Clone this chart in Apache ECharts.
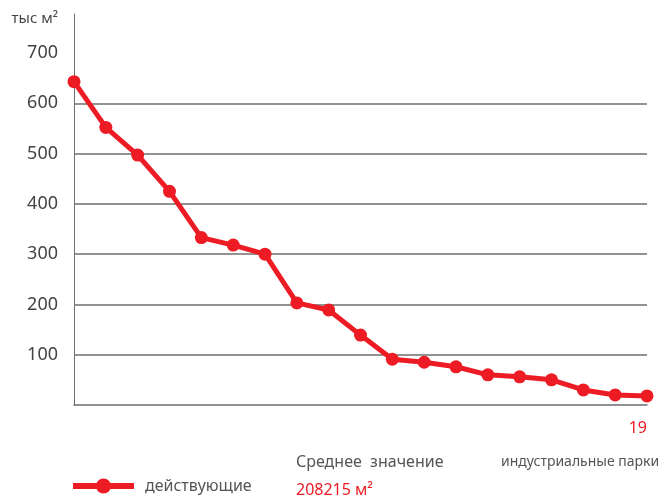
<!DOCTYPE html>
<html>
<head>
<meta charset="utf-8">
<script src="https://cdn.jsdelivr.net/npm/echarts@6/dist/echarts.min.js"></script>
<style>
html,body{margin:0;padding:0;background:#fff;}
#chart{width:664px;height:499px;}
</style>
</head>
<body>
<div id="chart"></div>
<script>
var categories = ['1','2','3','4','5','6','7','8','9','10','11','12','13','14','15','16','17','18','19'];
var values = [643, 552, 497, 425, 333, 318, 300, 203, 189, 139, 91, 85, 76, 60, 56, 50, 30, 20, 18];
var seriesName = 'действующие';
var yUnit = 'тыс м²';
var xTitle = 'индустриальные парки';
var avgTitle = 'Среднее  значение';
var avgValue = '208215 м²';

var FONT = 'Noto Sans';
var RED = '#ed1c24';
var GREY = '#6e6e6e';
var TEXT = '#444';

var chart = echarts.init(document.getElementById('chart'));
chart.setOption({
  animation: false,
  textStyle: {fontFamily: FONT},
  grid: {left: 74, right: 17, top: 14, bottom: 94, containLabel: false},
  legend: {
    data: [seriesName],
    left: 70, top: 478, padding: 0,
    itemWidth: 61, itemHeight: 19, itemGap: 10,
    lineStyle: {width: 6},
    textStyle: {fontFamily: FONT, fontSize: 16, color: '#555', padding: [0,0,0,6]}
  },
  xAxis: {
    type: 'category',
    data: categories,
    boundaryGap: false,
    axisLine: {show: true, lineStyle: {color: GREY, width: 1.5}},
    axisTick: {show: false},
    axisLabel: {
      interval: 0,
      formatter: function (v, i) { return i === categories.length - 1 ? v : ''; },
      color: RED, fontSize: 16, fontFamily: FONT, align: 'right', margin: 15
    },
    splitLine: {show: false}
  },
  yAxis: {
    type: 'value',
    min: 0, max: 777.6, interval: 100,
    axisLine: {show: true, lineStyle: {color: GREY, width: 1}},
    axisTick: {show: false},
    axisLabel: {
      showMaxLabel: false,
      formatter: function (v) { return v === 0 ? '' : String(v); },
      color: TEXT, fontSize: 18, fontFamily: FONT, margin: 16
    },
    splitLine: {
      show: true,
      lineStyle: {
        color: ['transparent', GREY, GREY, GREY, GREY, GREY, GREY, 'transparent', 'transparent'],
        width: 1.5
      }
    }
  },
  graphic: [
    {type: 'text', x: 58, y: 19, style: {text: yUnit, fontFamily: FONT, fontSize: 15, fill: TEXT, align: 'right', verticalAlign: 'middle'}},
    {type: 'text', left: 296, top: 454, style: {text: avgTitle, fontFamily: FONT, fontSize: 16, fill: '#555'}},
    {type: 'text', left: 296, top: 482, style: {text: avgValue, fontFamily: FONT, fontSize: 16, fill: RED}},
    {type: 'text', left: 501, top: 455, style: {text: xTitle, fontFamily: FONT, fontSize: 14, fill: '#555'}}
  ],
  series: [{
    name: seriesName,
    type: 'line',
    data: values,
    symbol: 'circle',
    symbolSize: 13,
    lineStyle: {color: RED, width: 5},
    itemStyle: {color: RED},
    z: 5
  }]
});
</script>
</body>
</html>
